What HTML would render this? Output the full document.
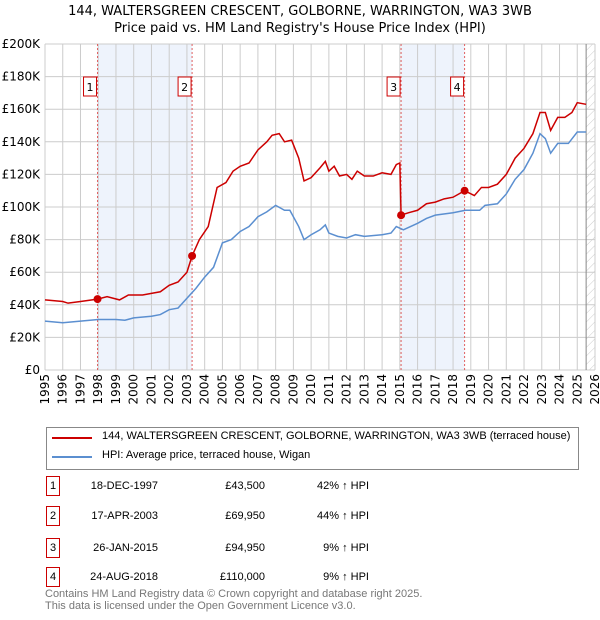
<!DOCTYPE html>
<html><head><meta charset="utf-8"><style>
body{margin:0;background:#fff;font-family:"Liberation Sans","DejaVu Sans",sans-serif;}
#w{position:relative;width:600px;height:620px;overflow:hidden;}
.t{position:absolute;font-size:12px;color:#000;}
</style></head><body><div id="w">
<svg id="c" width="600" height="620" style="position:absolute;left:0;top:0" font-family="DejaVu Sans, Liberation Sans, sans-serif">
<defs><pattern id="hatch" width="6" height="6" patternUnits="userSpaceOnUse" patternTransform="rotate(45)"><line x1="0" y1="0" x2="0" y2="6" stroke="#ccc" stroke-width="1"/></pattern></defs>
<text x="300" y="15" text-anchor="middle" font-size="13">144, WALTERSGREEN CRESCENT, GOLBORNE, WARRINGTON, WA3 3WB</text>
<text x="300" y="32" text-anchor="middle" font-size="13">Price paid vs. HM Land Registry's House Price Index (HPI)</text>
</svg>
<div class="t" style="left:46px;top:427px;width:531px;height:41px;border:1px solid #888;font-size:11px;">
<div style="position:absolute;left:5px;top:9px;width:40px;height:2px;background:#cc0000"></div>
<div style="position:absolute;left:55px;top:2px">144, WALTERSGREEN CRESCENT, GOLBORNE, WARRINGTON, WA3 3WB (terraced house)</div>
<div style="position:absolute;left:5px;top:28px;width:40px;height:2px;background:#5b8fd0"></div>
<div style="position:absolute;left:55px;top:21px">HPI: Average price, terraced house, Wigan</div>
</div>
<div id="tbl"></div>
<div class="t" style="left:45px;top:588px;font-size:11px;color:#777;line-height:12px">Contains HM Land Registry data © Crown copyright and database right 2025.<br>This data is licensed under the Open Government Licence v3.0.</div>
</div>
<script>
const redX=[1995,1996,1996.3,1997,1997.96,1998.5,1999.2,1999.7,2000.5,2001,2001.5,2002,2002.5,2003,2003.29,2003.7,2004.2,2004.7,2005.2,2005.6,2006,2006.5,2007,2007.5,2007.8,2008.2,2008.5,2008.9,2009.3,2009.6,2010,2010.5,2010.8,2011,2011.3,2011.6,2012,2012.3,2012.6,2013,2013.5,2014,2014.5,2014.8,2015.0,2015.07,2015.5,2016,2016.5,2017,2017.5,2018,2018.65,2019.2,2019.6,2020,2020.5,2021,2021.5,2022,2022.5,2022.9,2023.2,2023.5,2023.9,2024.3,2024.7,2025.0,2025.5];
const redY=[43,42,41,42,43.5,45,43,46,46,47,48,52,54,60,70,80,88,112,115,122,125,127,135,140,144,145,140,141,130,116,118,124,128,122,125,119,120,117,122,119,119,121,120,126,127,95,96.5,98,102,103,105,106,110,107,112,112,114,120,130,136,145,158,158,147,155,155,158,164,163];
const hpiX=[1995,1996,1997,1998,1999,1999.5,2000,2001,2001.5,2002,2002.5,2003,2003.5,2004,2004.5,2005,2005.5,2006,2006.5,2007,2007.5,2008,2008.5,2008.8,2009.3,2009.6,2010,2010.5,2010.8,2011,2011.5,2012,2012.5,2013,2014,2014.5,2014.8,2015.2,2016,2016.5,2017,2018,2018.7,2019.5,2019.8,2020.5,2021,2021.5,2022,2022.5,2022.9,2023.2,2023.5,2023.9,2024.5,2025,2025.5];
const hpiY=[30,29,30,31,31,30.5,32,33,34,37,38,44,50,57,63,78,80,85,88,94,97,101,98,98,88,80,83,86,89,84,82,81,83,82,83,84,88,86,90,93,95,96.5,98,98,101,102,108,117,123,133,145,142,133,139,139,146,146];
const saleX=[1997.96,2003.29,2015.07,2018.65];
const saleY=[43.5,69.95,94.95,110];
const saleLbl=["1","2","3","4"];
const saleDates=["18-DEC-1997","17-APR-2003","26-JAN-2015","24-AUG-2018"];
const salePrices=["£43,500","£69,950","£94,950","£110,000"];
const saleHpi=["42% ↑ HPI","44% ↑ HPI","9% ↑ HPI","9% ↑ HPI"];
const yTicks=[0,20,40,60,80,100,120,140,160,180,200];
const yTickLbl=["£0","£20K","£40K","£60K","£80K","£100K","£120K","£140K","£160K","£180K","£200K"];
const years=[];for(let y=1995;y<=2026;y++)years.push(y);

const L=45,R=595,T=44,B=370,X0=1995,X1=2026;
const sx=v=>L+(v-X0)/(X1-X0)*(R-L);
const sy=v=>B-v/200*(B-T);
const svg=document.getElementById('c');const NS='http://www.w3.org/2000/svg';
function mk(tag,at,par){const e=document.createElementNS(NS,tag);for(const k in at)e.setAttribute(k,at[k]);(par||svg).appendChild(e);return e;}
// shaded
for(let i=0;i<4;i+=2){const r=mk('rect',{x:sx(saleX[i]),y:T,width:sx(saleX[i+1])-sx(saleX[i]),height:B-T,fill:'#eef3fc'});

}
const h=mk('rect',{x:sx(2025.5),y:T,width:R-sx(2025.5),height:B-T,fill:'url(#hatch)'});


// grid
years.forEach(y=>{const l=mk('line',{x1:sx(y),x2:sx(y),y1:T,y2:B,stroke:'#ccc','stroke-width':1});


const t=mk('text',{x:0,y:0,'font-size':12,'text-anchor':'end',transform:`translate(${sx(y)+4},${B+4}) rotate(-90)`});t.textContent=y;

});
yTicks.forEach((v,i)=>{const l=mk('line',{x1:L,x2:R,y1:sy(v),y2:sy(v),stroke:'#ccc','stroke-width':1});


const t=mk('text',{x:40,y:sy(v)+4,'font-size':12,'text-anchor':'end'});t.textContent=yTickLbl[i];

});
const ax=mk('line',{x1:sx(2025.5),x2:sx(2025.5),y1:T,y2:B,stroke:'#888','stroke-width':1});


// sale lines
saleX.forEach((x,i)=>{const l=mk('line',{x1:sx(x),x2:sx(x),y1:T,y2:B,stroke:'#e06060','stroke-width':1,'stroke-dasharray':'2,2'});


const r=mk('rect',{x:sx(x)-14,y:77,width:13,height:19,fill:'#fff',stroke:'#cc0000'});


const t=mk('text',{x:sx(x)-7.5,y:91,'font-size':11,'text-anchor':'middle'});t.textContent=saleLbl[i];

});
function line(xs,ys,col,name){const p=mk('polyline',{points:xs.map((x,i)=>sx(x)+','+sy(ys[i])).join(' '),fill:'none',stroke:col,'stroke-width':1.5});

}
line(hpiX,hpiY,'#5b8fd0','hpi-line');
line(redX,redY,'#cc0000','property-price-line');
saleX.forEach((x,i)=>{const c=mk('circle',{cx:sx(x),cy:sy(saleY[i]),r:4,fill:'#cc0000'});

});
const tb=document.getElementById('tbl');
const rowsY=[476,506,538,567];
saleLbl.forEach((s,i)=>{const d=document.createElement('div');d.className='t';d.style.cssText=`left:0;top:${rowsY[i]}px;width:600px;height:20px;font-size:11px`;


d.innerHTML=`<div style="position:absolute;left:46px;top:0;width:12px;height:18px;border:1px solid #cc0000;text-align:center;line-height:18px">${s}</div><div style="position:absolute;left:60px;width:98px;text-align:right;line-height:20px">${saleDates[i]}</div><div style="position:absolute;left:200px;width:65px;text-align:right;line-height:20px">${salePrices[i]}</div><div style="position:absolute;left:290px;width:79px;text-align:right;line-height:20px">${saleHpi[i]}</div>`;
tb.appendChild(d);});
</script></body></html>
